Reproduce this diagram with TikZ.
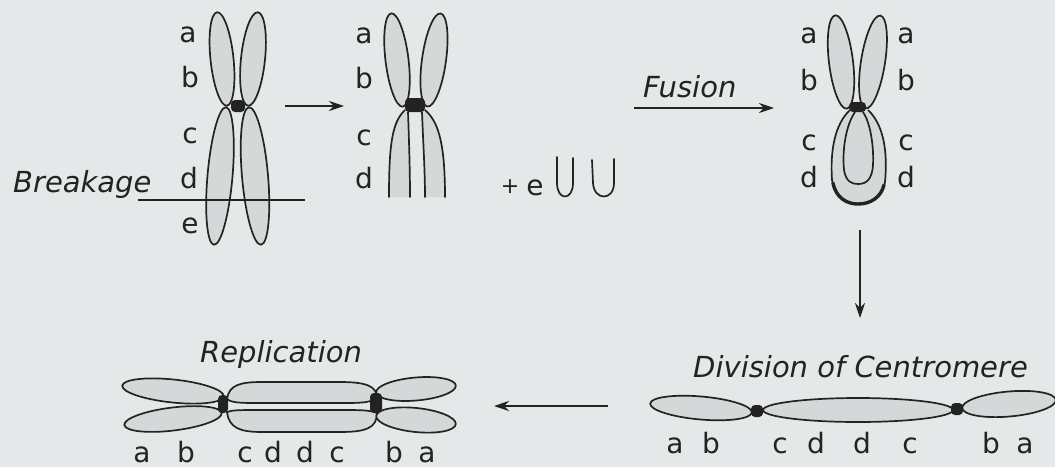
\documentclass[tikz,border=0pt]{standalone}
\usepackage{fontspec}
\setmainfont{DejaVu Sans}
\usetikzlibrary{arrows.meta}
\definecolor{paper}{RGB}{229,232,232}
\definecolor{chromfill}{RGB}{213,216,216}
\definecolor{ink}{RGB}{35,35,35}
\begin{document}
\begin{tikzpicture}[x=1pt,y=-1pt,
  arm/.style={draw=ink,fill=chromfill,line width=1.7pt},
  strand/.style={draw=ink,line width=1.7pt,line cap=round},
  cen/.style={fill=ink,rounded corners=4pt},
  lbl/.style={font=\fontsize{28}{30}\selectfont,text=ink,inner sep=0pt,anchor=base},
  caption/.style={font=\fontsize{29}{32}\selectfont\itshape,text=ink,inner sep=0pt,anchor=base west},
  arr/.style={draw=ink,line width=1.7pt,-{Stealth[length=15pt,width=10pt]}},
]
\useasboundingbox (0,0) rectangle (1055,467);
\fill[paper] (0,0) rectangle (1055,467);

% ---------- original chromosome with the breakage line ----------
\draw[arm,rotate around={6:(222,59)}] (222,59) ellipse [x radius=11.5, y radius=47];
\draw[arm,rotate around={-6:(253,59)}] (253,59) ellipse [x radius=12, y radius=47];
\draw[arm,rotate around={-5:(220,176)}] (220,176) ellipse [x radius=12.5, y radius=69];
\draw[arm,rotate around={5:(255,176)}] (255,176) ellipse [x radius=13, y radius=69];
\fill[cen] (231,100) rectangle (245,112);
\draw[ink,line width=1.7pt] (138,200) -- (305,200);
\node[caption] (breakage) at (13,192) {Breakage};
\node[lbl] (c1a) at (188,42) {a};
\node[lbl] (c1b) at (190,87) {b};
\node[lbl] (c1c) at (190,143) {c};
\node[lbl] (c1d) at (189,188) {d};
\node[lbl] (c1e) at (190,233) {e};

% ---------- chromosome after losing segment e ----------
\draw[arm,rotate around={7:(397,60)}] (397,60) ellipse [x radius=11.5, y radius=47];
\draw[arm,rotate around={-8:(434,60)}] (434,60) ellipse [x radius=12, y radius=47];
\fill[chromfill] (405,110) .. controls (392,122) and (389,145) .. (389,197)
  -- (410,197) .. controls (410,170) and (409,140) .. (408,112) -- cycle;
\fill[chromfill] (425,110) .. controls (439,122) and (445,145) .. (445,197)
  -- (425,197) .. controls (425,170) and (423,140) .. (422,112) -- cycle;
\draw[strand] (405,110) .. controls (392,122) and (389,145) .. (389,197);
\draw[strand] (408,112) .. controls (409,140) and (410,170) .. (410,197);
\draw[strand] (422,112) .. controls (423,140) and (425,170) .. (425,197);
\draw[strand] (425,110) .. controls (439,122) and (445,145) .. (445,197);
\fill[cen] (405,98) rectangle (425,112);
\node[lbl] (c2a) at (364,43) {a};
\node[lbl] (c2b) at (364,88) {b};
\node[lbl] (c2c) at (364,145) {c};
\node[lbl] (c2d) at (364,188) {d};

% detached fragment
\node[font=\fontsize{22}{24}\selectfont,text=ink,inner sep=0pt] (plus) at (510,187) {+};
\node[lbl] (fe) at (535,195) {e};
\draw[strand] (557,157) -- (557,183) .. controls (557,201) and (573,201) .. (573,183) -- (573,158);
\draw[strand] (592,160) -- (593,183) .. controls (594,201) and (614,201) .. (614,183) -- (614,159);

% ---------- fused chromosome ----------
\draw[arm,rotate around={7:(841,62)}] (841,62) ellipse [x radius=12, y radius=47];
\draw[arm,rotate around={-9:(873,62)}] (873,62) ellipse [x radius=12, y radius=47];
\draw[arm] (850,110) .. controls (835,124) and (830,150) .. (832,180)
  .. controls (835,198) and (847,204) .. (858,204)
  .. controls (871,204) and (882,197) .. (885,182)
  .. controls (888,150) and (883,124) .. (868,110);
\draw[strand] (855,112) .. controls (846,125) and (842,150) .. (844,170)
  .. controls (846,182) and (852,184) .. (858,184)
  .. controls (866,184) and (872,180) .. (873,165)
  .. controls (874,145) and (870,122) .. (863,112);
\draw[ink,line width=3.4pt,line cap=round] (833,183) .. controls (836,198) and (847,204) .. (858,204)
  .. controls (871,204) and (881,197) .. (884,185);
\fill[cen] (849,102) rectangle (866,112);
\node[lbl] (c3a) at (809,43) {a};
\node[lbl] (c3b) at (809,90) {b};
\node[lbl] (c3c) at (809,150) {c};
\node[lbl] (c3d) at (809,187) {d};
\node[lbl] (c3a2) at (906,43) {a};
\node[lbl] (c3b2) at (906,90) {b};
\node[lbl] (c3c2) at (906,150) {c};
\node[lbl] (c3d2) at (906,187) {d};
\node[caption] (fusion) at (643,97) {Fusion};

% ---------- division of the centromere ----------
\draw[arm,rotate around={-5:(701,408)}] (701,408) ellipse [x radius=51, y radius=11.5];
\draw[arm] (858,410) ellipse [x radius=95, y radius=12];
\draw[arm,rotate around={5:(1009,404)}] (1009,404) ellipse [x radius=47, y radius=12.5];
\fill[cen] (751,405) rectangle (763,417);
\fill[cen] (951,403) rectangle (963,415);
\node[caption] (division) at (693,377) {Division of Centromere};
\node[lbl] (d1) at (675,453) {a};
\node[lbl] (d2) at (711,453) {b};
\node[lbl] (d3) at (780,453) {c};
\node[lbl] (d4) at (816,453) {d};
\node[lbl] (d5) at (862,453) {d};
\node[lbl] (d6) at (910,453) {c};
\node[lbl] (d7) at (991,453) {b};
\node[lbl] (d8) at (1025,453) {a};

% ---------- replicated dicentric chromosome ----------
\draw[arm,rotate around={-6:(173,391)}] (173,391) ellipse [x radius=51, y radius=11.5];
\draw[arm,rotate around={7:(173,419)}] (173,419) ellipse [x radius=49, y radius=11.5];
% middle chromatids between the two centromeres
\draw[arm] (227,399) .. controls (229,385) and (240,382) .. (262,382) -- (340,382)
  .. controls (366,382) and (377,386) .. (377,398)
  .. controls (370,403) and (360,403) .. (340,403) -- (262,403)
  .. controls (240,403) and (232,403) .. cycle;
\draw[arm] (227,412) .. controls (229,428) and (240,432) .. (262,432) -- (340,432)
  .. controls (366,432) and (377,428) .. (377,413)
  .. controls (370,410) and (360,410) .. (340,410) -- (262,410)
  .. controls (240,410) and (232,410) .. cycle;
\draw[arm,rotate around={5:(416,389)}] (416,389) ellipse [x radius=40, y radius=11.5];
\draw[arm,rotate around={-6:(416,420)}] (416,420) ellipse [x radius=40, y radius=12];
\fill[cen] (218,395) rectangle (228,413);
\fill[cen] (370,393) rectangle (382,413);
\node[caption] (replication) at (200,362) {Replication};
\node[lbl] (r1) at (142,462) {a};
\node[lbl] (r2) at (186,462) {b};
\node[lbl] (r3) at (245,462) {c};
\node[lbl] (r4) at (273,462) {d};
\node[lbl] (r5) at (305,462) {d};
\node[lbl] (r6) at (337,462) {c};
\node[lbl] (r7) at (394,462) {b};
\node[lbl] (r8) at (427,462) {a};

% ---------- arrows between the stages ----------
\coordinate (s1) at (285,106); \coordinate (e1) at (344,106);
\coordinate (s2) at (634,108); \coordinate (e2) at (774,108);
\coordinate (s3) at (860,230); \coordinate (e3) at (860,318);
\coordinate (s4) at (608,406); \coordinate (e4) at (494,406);
\draw[arr] (s1) -- (e1);
\draw[arr] (s2) -- (e2);
\draw[arr] (s3) -- (e3);
\draw[arr] (s4) -- (e4);
\end{tikzpicture}
\end{document}
